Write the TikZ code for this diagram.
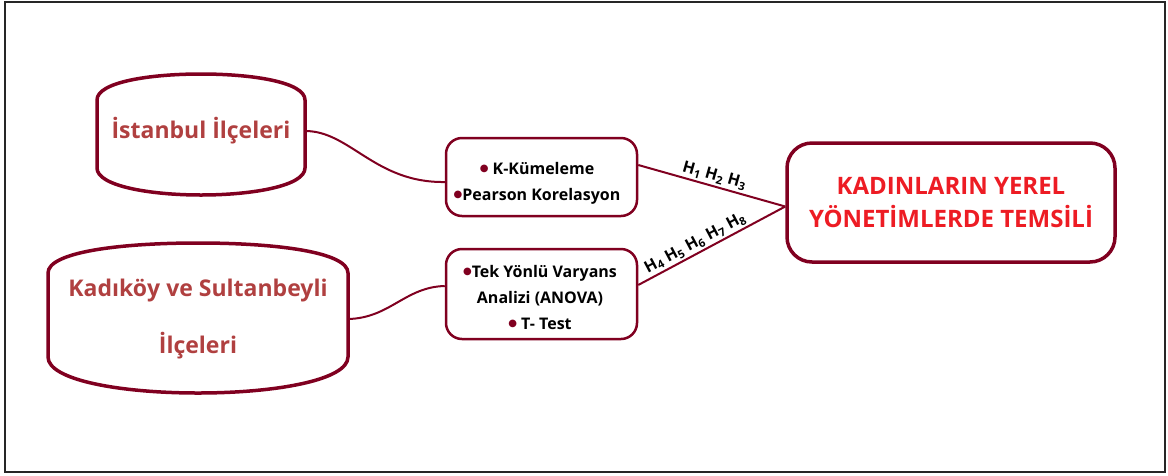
\documentclass[tikz,border=0pt]{standalone}
\usepackage{fontspec}
\setmainfont{Open Sans}
\newfontfamily\symfont{DejaVu Sans}
\usetikzlibrary{calc}
\definecolor{dred}{RGB}{128,0,32}
\definecolor{brn}{RGB}{176,64,64}
\definecolor{tred}{RGB}{237,28,36}
\newcommand\Hs[1]{H\textsubscript{#1}}
\newcommand\bul{\raisebox{2.6pt}{\symfont\fontsize{10}{10}\selectfont\textcolor{dred}{●}}}
\begin{document}
\begin{tikzpicture}[x=1pt,y=-1pt,
  shp/.style={draw=dred,line width=3.5pt},
  area/.style={inner sep=0pt,align=center,text=brn,font=\bfseries\fontsize{23}{57}\selectfont},
  box/.style={draw=dred,line width=2.5pt,rounded corners=16pt,minimum width=191pt,inner sep=0pt},
  boxtext/.style={inner sep=0pt,align=center,font=\bfseries\fontsize{16}{26}\selectfont},
  mainbox/.style={draw=dred,line width=3.5pt,rounded corners=25pt,minimum width=328pt,minimum height=119pt,inner sep=0pt,align=center,text=tred,font=\bfseries\fontsize{24}{33}\selectfont},
  conn/.style={draw=dred,line width=2pt},
  lbl/.style={font=\bfseries\fontsize{16}{18}\selectfont,sloped,above,inner sep=2pt},
]
\useasboundingbox (0,0) rectangle (1168,475);
\draw[line width=2.5pt,draw=black!85] (5,2) rectangle (1165,472);

% barrel shapes
\draw[shp] (97,100) .. controls (97,82) and (150,74) .. (201,74) .. controls (252,74) and (305,82) .. (305,100) -- (305,168) .. controls (305,186) and (252,195) .. (201,195) .. controls (150,195) and (97,186) .. (97,168) -- cycle;
\draw[shp] (48,273) .. controls (48,252) and (120,243) .. (198,243) .. controls (276,243) and (348,252) .. (348,273) -- (348,357) .. controls (348,380) and (276,393) .. (198,393) .. controls (120,393) and (48,380) .. (48,357) -- cycle;

\node[area,minimum width=208pt,minimum height=60pt] (ist) at (201,131) {İstanbul İlçeleri};
\node[area,minimum width=300pt,minimum height=100pt] (kad) at (198,319) {Kadıköy ve Sultanbeyli\\İlçeleri};

\node[box,minimum height=78pt] (b1) at (541.5,177) {};
\node[boxtext] (t1) at (537,183) {\bul~K-Kümeleme\\\bul Pearson Korelasyon};
\node[box,minimum height=90pt] (b2) at (541.5,294) {};
\node[boxtext] (t2) at (540,297) {\bul Tek Yönlü Varyans\\Analizi (ANOVA)\\\bul~T- Test};

\node[mainbox] (main) at (951,202.5) {KADINLARIN YEREL\\YÖNETİMLERDE TEMSİLİ};

\draw[conn] (ist.east) .. controls (350,131) and (375,183) .. ([yshift=-5pt]b1.west);
\draw[conn] (kad.east) .. controls (390,318) and (405,287) .. ([yshift=8pt]b2.west);
\draw[conn] ([yshift=12pt]b1.east) -- node[lbl,pos=0.5] {\Hs{1} \Hs{2} \Hs{3}} ([yshift=-4pt]main.west);
\draw[conn] ([yshift=9pt]b2.east) -- node[lbl,pos=0.42] {\Hs{4} \Hs{5} \Hs{6} \Hs{7} \Hs{8}} ([yshift=-4pt]main.west);
\end{tikzpicture}
\end{document}
